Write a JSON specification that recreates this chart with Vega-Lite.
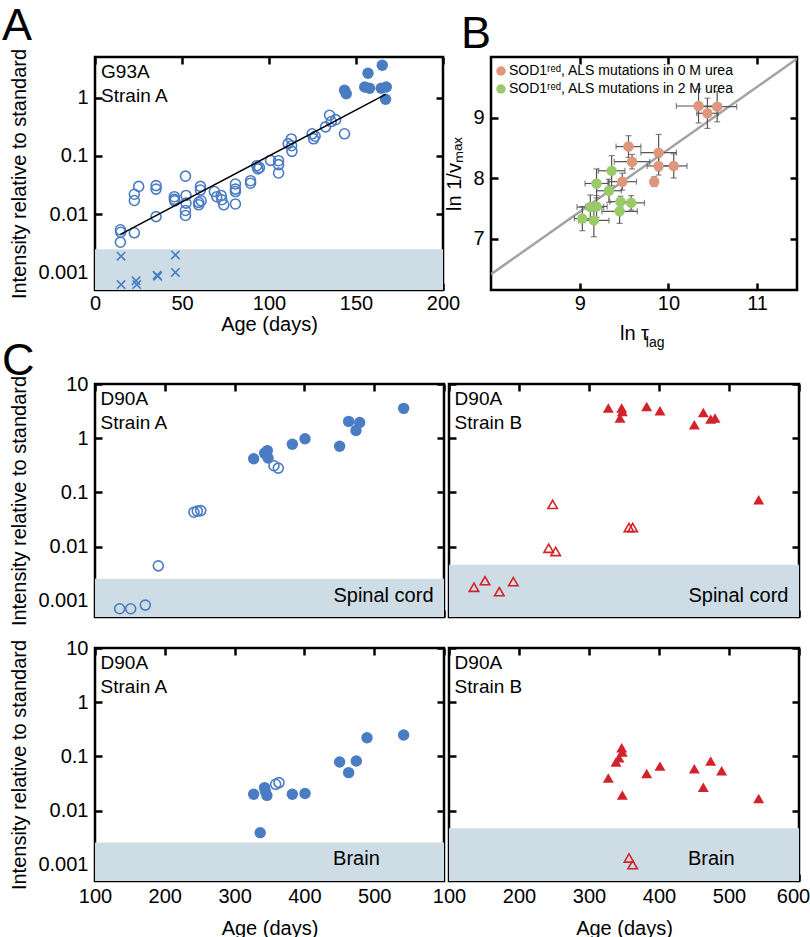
{
"$schema": "https://vega.github.io/schema/vega-lite/v6.json",
"padding": {"top": 3, "left": 0, "right": 0, "bottom": 0},
"background": "white",
"config": {
 "font": "Liberation Sans",
 "view": {"stroke": "black", "strokeWidth": 2.5},
 "axis": {"domain": false, "grid": false, "tickColor": "black", "tickWidth": 2.5, "tickSize": -7, "labelPadding": 14, "labelColor": "black", "titleColor": "black", "labelFont": "Liberation Sans", "titleFont": "Liberation Sans", "labelFontSize": 20, "titleFontSize": 20, "titleFontWeight": "normal", "labelFlush": false, "labelOverlap": false, "titlePadding": 8},
 "title": {"font": "Liberation Sans", "fontSize": 45, "fontWeight": "normal", "anchor": "start", "frame": "group", "color": "black"},
 "text": {"font": "Liberation Sans"},
 "legend": {"labelFont": "Liberation Sans"}
},
"datasets": {
 "g93a": [
  {"age": 14.6, "intensity": 0.0054, "kind": "open"}, {"age": 14.8, "intensity": 0.0049, "kind": "open"}, {"age": 14.6, "intensity": 0.0033, "kind": "open"},
  {"age": 22.6, "intensity": 0.0048, "kind": "open"}, {"age": 22.6, "intensity": 0.022, "kind": "open"}, {"age": 22.6, "intensity": 0.0172, "kind": "open"},
  {"age": 25.1, "intensity": 0.030, "kind": "open"}, {"age": 35.1, "intensity": 0.031, "kind": "open"}, {"age": 35.1, "intensity": 0.027, "kind": "open"},
  {"age": 35.1, "intensity": 0.0091, "kind": "open"}, {"age": 45.6, "intensity": 0.020, "kind": "open"}, {"age": 45.8, "intensity": 0.017, "kind": "open"},
  {"age": 45.6, "intensity": 0.018, "kind": "open"}, {"age": 52, "intensity": 0.045, "kind": "open"}, {"age": 52.3, "intensity": 0.021, "kind": "open"},
  {"age": 52.3, "intensity": 0.0155, "kind": "open"}, {"age": 52, "intensity": 0.0116, "kind": "open"}, {"age": 52, "intensity": 0.0095, "kind": "open"},
  {"age": 60.6, "intensity": 0.030, "kind": "open"}, {"age": 60.6, "intensity": 0.026, "kind": "open"}, {"age": 59.6, "intensity": 0.016, "kind": "open"},
  {"age": 59.6, "intensity": 0.0145, "kind": "open"}, {"age": 61, "intensity": 0.017, "kind": "open"}, {"age": 68.6, "intensity": 0.0245, "kind": "open"},
  {"age": 70, "intensity": 0.020, "kind": "open"}, {"age": 72.5, "intensity": 0.021, "kind": "open"}, {"age": 72.9, "intensity": 0.0177, "kind": "open"},
  {"age": 74, "intensity": 0.0145, "kind": "open"}, {"age": 80.7, "intensity": 0.033, "kind": "open"}, {"age": 80.7, "intensity": 0.027, "kind": "open"},
  {"age": 80.7, "intensity": 0.0245, "kind": "open"}, {"age": 80.7, "intensity": 0.015, "kind": "open"}, {"age": 89.4, "intensity": 0.0376, "kind": "open"},
  {"age": 89.4, "intensity": 0.034, "kind": "open"}, {"age": 93, "intensity": 0.068, "kind": "open"}, {"age": 93.6, "intensity": 0.060, "kind": "open"},
  {"age": 94.5, "intensity": 0.063, "kind": "open"}, {"age": 100.9, "intensity": 0.084, "kind": "open"}, {"age": 105.5, "intensity": 0.083, "kind": "open"},
  {"age": 105.5, "intensity": 0.071, "kind": "open"}, {"age": 105.5, "intensity": 0.051, "kind": "open"}, {"age": 111, "intensity": 0.163, "kind": "open"},
  {"age": 112.8, "intensity": 0.196, "kind": "open"}, {"age": 113, "intensity": 0.15, "kind": "open"}, {"age": 113.2, "intensity": 0.12, "kind": "open"},
  {"age": 124.8, "intensity": 0.24, "kind": "open"}, {"age": 125.6, "intensity": 0.197, "kind": "open"}, {"age": 126.5, "intensity": 0.218, "kind": "open"},
  {"age": 132.5, "intensity": 0.316, "kind": "open"}, {"age": 134.8, "intensity": 0.50, "kind": "open"}, {"age": 135.8, "intensity": 0.39, "kind": "open"},
  {"age": 138.3, "intensity": 0.42, "kind": "open"}, {"age": 143.4, "intensity": 0.24, "kind": "open"},
  {"age": 143.4, "intensity": 1.34, "kind": "filled"}, {"age": 144.4, "intensity": 1.17, "kind": "filled"}, {"age": 156.9, "intensity": 2.63, "kind": "filled"},
  {"age": 155, "intensity": 1.53, "kind": "filled"}, {"age": 157.8, "intensity": 1.45, "kind": "filled"}, {"age": 165.1, "intensity": 3.6, "kind": "filled"},
  {"age": 164.5, "intensity": 1.45, "kind": "filled"}, {"age": 167.4, "intensity": 1.53, "kind": "filled"}, {"age": 167, "intensity": 0.94, "kind": "filled"},
  {"age": 15, "intensity": 0.0019, "kind": "below"}, {"age": 15, "intensity": 0.00062, "kind": "below"}, {"age": 23.6, "intensity": 0.00072, "kind": "below"},
  {"age": 24, "intensity": 0.00062, "kind": "below"}, {"age": 35.7, "intensity": 0.0009, "kind": "below"}, {"age": 36, "intensity": 0.00086, "kind": "below"},
  {"age": 46.2, "intensity": 0.002, "kind": "below"}, {"age": 46.2, "intensity": 0.001, "kind": "below"}
 ],
 "g93afit": [{"age": 14.6, "intensity": 0.0045}, {"age": 167, "intensity": 1.14}],
 "sod": [
  {"lntau": 10.34, "lnv": 9.19, "xlo": 10.09, "xhi": 10.59, "ylo": 8.91, "yhi": 9.47, "series": "SOD1ʳᵉᵈ, ALS mutations in 0 M urea"},
  {"lntau": 10.44, "lnv": 9.07, "xlo": 10.32, "xhi": 10.56, "ylo": 8.82, "yhi": 9.32, "series": "SOD1ʳᵉᵈ, ALS mutations in 0 M urea"},
  {"lntau": 10.55, "lnv": 9.18, "xlo": 10.33, "xhi": 10.77, "ylo": 8.93, "yhi": 9.43, "series": "SOD1ʳᵉᵈ, ALS mutations in 0 M urea"},
  {"lntau": 9.55, "lnv": 8.52, "xlo": 9.41, "xhi": 9.69, "ylo": 8.34, "yhi": 8.70, "series": "SOD1ʳᵉᵈ, ALS mutations in 0 M urea"},
  {"lntau": 9.59, "lnv": 8.27, "xlo": 9.39, "xhi": 9.79, "ylo": 8.15, "yhi": 8.39, "series": "SOD1ʳᵉᵈ, ALS mutations in 0 M urea"},
  {"lntau": 9.89, "lnv": 8.42, "xlo": 9.69, "xhi": 10.09, "ylo": 8.12, "yhi": 8.72, "series": "SOD1ʳᵉᵈ, ALS mutations in 0 M urea"},
  {"lntau": 9.89, "lnv": 8.20, "xlo": 9.76, "xhi": 10.02, "ylo": 8.05, "yhi": 8.35, "series": "SOD1ʳᵉᵈ, ALS mutations in 0 M urea"},
  {"lntau": 10.06, "lnv": 8.20, "xlo": 9.91, "xhi": 10.21, "ylo": 8.00, "yhi": 8.40, "series": "SOD1ʳᵉᵈ, ALS mutations in 0 M urea"},
  {"lntau": 9.48, "lnv": 7.94, "xlo": 9.32, "xhi": 9.64, "ylo": 7.80, "yhi": 8.08, "series": "SOD1ʳᵉᵈ, ALS mutations in 0 M urea"},
  {"lntau": 9.84, "lnv": 7.94, "xlo": 9.80, "xhi": 9.88, "ylo": 7.86, "yhi": 8.02, "series": "SOD1ʳᵉᵈ, ALS mutations in 0 M urea"},
  {"lntau": 9.36, "lnv": 8.12, "xlo": 9.21, "xhi": 9.51, "ylo": 7.87, "yhi": 8.37, "series": "SOD1ʳᵉᵈ, ALS mutations in 2 M urea"},
  {"lntau": 9.19, "lnv": 7.91, "xlo": 9.06, "xhi": 9.32, "ylo": 7.67, "yhi": 8.15, "series": "SOD1ʳᵉᵈ, ALS mutations in 2 M urea"},
  {"lntau": 9.33, "lnv": 7.79, "xlo": 9.19, "xhi": 9.47, "ylo": 7.60, "yhi": 7.98, "series": "SOD1ʳᵉᵈ, ALS mutations in 2 M urea"},
  {"lntau": 9.46, "lnv": 7.61, "xlo": 9.34, "xhi": 9.58, "ylo": 7.52, "yhi": 7.70, "series": "SOD1ʳᵉᵈ, ALS mutations in 2 M urea"},
  {"lntau": 9.58, "lnv": 7.59, "xlo": 9.43, "xhi": 9.73, "ylo": 7.47, "yhi": 7.71, "series": "SOD1ʳᵉᵈ, ALS mutations in 2 M urea"},
  {"lntau": 9.45, "lnv": 7.45, "xlo": 9.25, "xhi": 9.65, "ylo": 7.25, "yhi": 7.65, "series": "SOD1ʳᵉᵈ, ALS mutations in 2 M urea"},
  {"lntau": 9.12, "lnv": 7.52, "xlo": 8.97, "xhi": 9.27, "ylo": 7.32, "yhi": 7.72, "series": "SOD1ʳᵉᵈ, ALS mutations in 2 M urea"},
  {"lntau": 9.19, "lnv": 7.53, "xlo": 9.07, "xhi": 9.31, "ylo": 7.35, "yhi": 7.71, "series": "SOD1ʳᵉᵈ, ALS mutations in 2 M urea"},
  {"lntau": 9.03, "lnv": 7.33, "xlo": 8.94, "xhi": 9.12, "ylo": 7.13, "yhi": 7.53, "series": "SOD1ʳᵉᵈ, ALS mutations in 2 M urea"},
  {"lntau": 9.16, "lnv": 7.30, "xlo": 8.99, "xhi": 9.33, "ylo": 7.03, "yhi": 7.57, "series": "SOD1ʳᵉᵈ, ALS mutations in 2 M urea"}
 ],
 "sodfit": [{"lntau": 8, "lnv": 6.41}, {"lntau": 11.45, "lnv": 9.97}],
 "d90a": [
  {"panel": "A_SC", "age": 135.3, "intensity": 0.00071, "kind": "open"}, {"panel": "A_SC", "age": 151.1, "intensity": 0.00071, "kind": "open"},
  {"panel": "A_SC", "age": 172.1, "intensity": 0.00083, "kind": "open"}, {"panel": "A_SC", "age": 190.7, "intensity": 0.0044, "kind": "open"},
  {"panel": "A_SC", "age": 241.8, "intensity": 0.043, "kind": "open"}, {"panel": "A_SC", "age": 246.6, "intensity": 0.045, "kind": "open"},
  {"panel": "A_SC", "age": 251.5, "intensity": 0.046, "kind": "open"}, {"panel": "A_SC", "age": 356.4, "intensity": 0.31, "kind": "open"},
  {"panel": "A_SC", "age": 362.6, "intensity": 0.28, "kind": "open"},
  {"panel": "A_SC", "age": 327.3, "intensity": 0.416, "kind": "filled"}, {"panel": "A_SC", "age": 343, "intensity": 0.53, "kind": "filled"},
  {"panel": "A_SC", "age": 346.9, "intensity": 0.59, "kind": "filled"}, {"panel": "A_SC", "age": 347.9, "intensity": 0.43, "kind": "filled"},
  {"panel": "A_SC", "age": 382.7, "intensity": 0.77, "kind": "filled"}, {"panel": "A_SC", "age": 400.9, "intensity": 0.975, "kind": "filled"},
  {"panel": "A_SC", "age": 450.5, "intensity": 0.71, "kind": "filled"}, {"panel": "A_SC", "age": 463.4, "intensity": 2.04, "kind": "filled"},
  {"panel": "A_SC", "age": 479.2, "intensity": 1.95, "kind": "filled"}, {"panel": "A_SC", "age": 473.9, "intensity": 1.39, "kind": "filled"},
  {"panel": "A_SC", "age": 542.2, "intensity": 3.55, "kind": "filled"},
  {"panel": "B_SC", "age": 327.6, "intensity": 3.6, "kind": "filled"}, {"panel": "B_SC", "age": 346.7, "intensity": 3.6, "kind": "filled"},
  {"panel": "B_SC", "age": 347.6, "intensity": 3.1, "kind": "filled"}, {"panel": "B_SC", "age": 344.3, "intensity": 2.35, "kind": "filled"},
  {"panel": "B_SC", "age": 382.4, "intensity": 3.86, "kind": "filled"}, {"panel": "B_SC", "age": 401.4, "intensity": 3.2, "kind": "filled"},
  {"panel": "B_SC", "age": 450.5, "intensity": 1.77, "kind": "filled"}, {"panel": "B_SC", "age": 463.3, "intensity": 2.99, "kind": "filled"},
  {"panel": "B_SC", "age": 473.8, "intensity": 2.25, "kind": "filled"}, {"panel": "B_SC", "age": 480, "intensity": 2.35, "kind": "filled"},
  {"panel": "B_SC", "age": 542.4, "intensity": 0.073, "kind": "filled"},
  {"panel": "B_SC", "age": 248.1, "intensity": 0.060, "kind": "open"}, {"panel": "B_SC", "age": 242.4, "intensity": 0.0093, "kind": "open"},
  {"panel": "B_SC", "age": 252.4, "intensity": 0.0081, "kind": "open"}, {"panel": "B_SC", "age": 357.1, "intensity": 0.0224, "kind": "open"},
  {"panel": "B_SC", "age": 362.4, "intensity": 0.0224, "kind": "open"}, {"panel": "B_SC", "age": 135.7, "intensity": 0.00177, "kind": "open"},
  {"panel": "B_SC", "age": 151.4, "intensity": 0.00234, "kind": "open"}, {"panel": "B_SC", "age": 171.9, "intensity": 0.00147, "kind": "open"},
  {"panel": "B_SC", "age": 191.9, "intensity": 0.00225, "kind": "open"},
  {"panel": "A_BR", "age": 327.3, "intensity": 0.020, "kind": "filled"}, {"panel": "A_BR", "age": 343, "intensity": 0.0265, "kind": "filled"},
  {"panel": "A_BR", "age": 346.3, "intensity": 0.019, "kind": "filled"}, {"panel": "A_BR", "age": 344, "intensity": 0.023, "kind": "filled"},
  {"panel": "A_BR", "age": 336.7, "intensity": 0.0039, "kind": "filled"}, {"panel": "A_BR", "age": 382.7, "intensity": 0.020, "kind": "filled"},
  {"panel": "A_BR", "age": 400.9, "intensity": 0.0206, "kind": "filled"}, {"panel": "A_BR", "age": 450.5, "intensity": 0.0787, "kind": "filled"},
  {"panel": "A_BR", "age": 463.4, "intensity": 0.050, "kind": "filled"}, {"panel": "A_BR", "age": 474.4, "intensity": 0.082, "kind": "filled"},
  {"panel": "A_BR", "age": 489.7, "intensity": 0.22, "kind": "filled"}, {"panel": "A_BR", "age": 542.2, "intensity": 0.247, "kind": "filled"},
  {"panel": "A_BR", "age": 358.8, "intensity": 0.0305, "kind": "open"}, {"panel": "A_BR", "age": 363.6, "intensity": 0.0327, "kind": "open"},
  {"panel": "B_BR", "age": 327.6, "intensity": 0.040, "kind": "filled"}, {"panel": "B_BR", "age": 346.7, "intensity": 0.144, "kind": "filled"},
  {"panel": "B_BR", "age": 347.5, "intensity": 0.12, "kind": "filled"}, {"panel": "B_BR", "age": 342.9, "intensity": 0.094, "kind": "filled"},
  {"panel": "B_BR", "age": 338.6, "intensity": 0.079, "kind": "filled"}, {"panel": "B_BR", "age": 347.6, "intensity": 0.0194, "kind": "filled"},
  {"panel": "B_BR", "age": 382.4, "intensity": 0.048, "kind": "filled"}, {"panel": "B_BR", "age": 401.4, "intensity": 0.066, "kind": "filled"},
  {"panel": "B_BR", "age": 450.5, "intensity": 0.059, "kind": "filled"}, {"panel": "B_BR", "age": 473.8, "intensity": 0.082, "kind": "filled"},
  {"panel": "B_BR", "age": 489.5, "intensity": 0.054, "kind": "filled"}, {"panel": "B_BR", "age": 463.3, "intensity": 0.027, "kind": "filled"},
  {"panel": "B_BR", "age": 542.4, "intensity": 0.0166, "kind": "filled"},
  {"panel": "B_BR", "age": 357.1, "intensity": 0.00133, "kind": "open"}, {"panel": "B_BR", "age": 362.4, "intensity": 0.0010, "kind": "open"}
 ]
},
"vconcat": [
 {"hconcat": [
  {"width": 348, "height": 233,
   "title": {"text": "A", "dx": -93, "offset": -1},
   "data": {"name": "g93a"},
   "layer": [
    {"data": {"values": [{}]}, "mark": {"type": "rect", "color": "#cedde5"},
     "encoding": {"y": {"datum": 0.0005, "type": "quantitative", "scale": {"type": "log", "domain": [0.0005, 5], "nice": false}, "axis": null}, "y2": {"datum": 0.0025}}},
    {"transform": [{"filter": "datum.kind == 'open'"}], "mark": {"type": "point", "shape": "circle", "filled": false, "size": 100, "strokeWidth": 1.6, "opacity": 1, "color": "#4a7cc3"},
     "encoding": {"x": {"field": "age", "type": "quantitative", "scale": {"domain": [0, 200], "nice": false, "zero": false}, "axis": {"orient": "bottom", "values": [0, 50, 100, 150, 200], "title": "Age (days)", "labelPadding": 10, "titlePadding": 1}},
      "y": {"field": "intensity", "type": "quantitative", "scale": {"type": "log", "domain": [0.0005, 5], "nice": false}, "axis": {"orient": "left", "values": [0.001, 0.01, 0.1, 1], "format": "~g", "title": "Intensity relative to standard"}}}},
    {"transform": [{"filter": "datum.kind == 'filled'"}], "mark": {"type": "point", "shape": "circle", "filled": true, "size": 130, "opacity": 1, "color": "#4a7cc3"},
     "encoding": {"x": {"field": "age", "type": "quantitative", "scale": {"domain": [0, 200], "nice": false, "zero": false}, "axis": null},
      "y": {"field": "intensity", "type": "quantitative", "scale": {"type": "log", "domain": [0.0005, 5], "nice": false}, "axis": null}}},
    {"transform": [{"filter": "datum.kind == 'below'"}], "mark": {"type": "point", "shape": "M-1,-1L1,1M-1,1L1,-1", "filled": false, "size": 70, "strokeWidth": 1.6, "opacity": 1, "color": "#4a7cc3"},
     "encoding": {"x": {"field": "age", "type": "quantitative", "scale": {"domain": [0, 200], "nice": false, "zero": false}, "axis": null},
      "y": {"field": "intensity", "type": "quantitative", "scale": {"type": "log", "domain": [0.0005, 5], "nice": false}, "axis": null}}},
    {"data": {"name": "g93afit"}, "mark": {"type": "line", "color": "black", "strokeWidth": 1.5},
     "encoding": {"x": {"field": "age", "type": "quantitative", "scale": {"domain": [0, 200], "nice": false, "zero": false}, "axis": {"orient": "top", "values": [0, 50, 100, 150, 200], "labels": false, "title": null}},
      "y": {"field": "intensity", "type": "quantitative", "scale": {"type": "log", "domain": [0.0005, 5], "nice": false}, "axis": {"orient": "right", "values": [0.001, 0.01, 0.1, 1], "labels": false, "title": null}}}},
    {"data": {"values": [{}]}, "mark": {"type": "text", "align": "left", "baseline": "top", "fontSize": 19, "lineHeight": 24, "dy": 6, "color": "black"},
     "encoding": {"x": {"datum": 3.5, "type": "quantitative", "scale": {"domain": [0, 200], "nice": false, "zero": false}, "axis": null},
      "y": {"datum": 5, "type": "quantitative", "scale": {"type": "log", "domain": [0.0005, 5], "nice": false}, "axis": null},
      "text": {"value": ["G93A", "Strain A"]}}}
   ],
   "resolve": {"axis": {"x": "independent", "y": "independent"}}
  },
  {"width": 306, "height": 233,
   "title": {"text": "B", "dx": -30, "offset": -1},
   "data": {"name": "sod"},
   "layer": [
    {"data": {"name": "sodfit"}, "mark": {"type": "line", "color": "#a3a3a3", "strokeWidth": 2.5, "clip": true},
     "encoding": {"x": {"field": "lntau", "type": "quantitative", "scale": {"domain": [8, 11.45], "nice": false, "zero": false}, "axis": {"orient": "bottom", "values": [9, 10, 11], "title": "ln τ", "titleX": 143, "labelPadding": 10, "titlePadding": 10}},
      "y": {"field": "lnv", "type": "quantitative", "scale": {"domain": [6.15, 10], "nice": false, "zero": false}, "axis": {"orient": "left", "values": [7, 8, 9], "title": "ln 1/vₘₐₓ"}}}},
    {"mark": {"type": "rule", "color": "#555555", "strokeWidth": 1.2},
     "encoding": {"x": {"field": "xlo", "type": "quantitative", "scale": {"domain": [8, 11.45], "nice": false, "zero": false}, "axis": null}, "x2": {"field": "xhi"},
      "y": {"field": "lnv", "type": "quantitative", "scale": {"domain": [6.15, 10], "nice": false, "zero": false}, "axis": null}}},
    {"mark": {"type": "rule", "color": "#555555", "strokeWidth": 1.2},
     "encoding": {"y": {"field": "ylo", "type": "quantitative", "scale": {"domain": [6.15, 10], "nice": false, "zero": false}, "axis": null}, "y2": {"field": "yhi"},
      "x": {"field": "lntau", "type": "quantitative", "scale": {"domain": [8, 11.45], "nice": false, "zero": false}, "axis": null}}},
    {"mark": {"type": "tick", "orient": "vertical", "color": "#555555", "size": 6, "thickness": 1.2},
     "encoding": {"x": {"field": "xlo", "type": "quantitative", "scale": {"domain": [8, 11.45], "nice": false, "zero": false}, "axis": null},
      "y": {"field": "lnv", "type": "quantitative", "scale": {"domain": [6.15, 10], "nice": false, "zero": false}, "axis": null}}},
    {"mark": {"type": "tick", "orient": "vertical", "color": "#555555", "size": 6, "thickness": 1.2},
     "encoding": {"x": {"field": "xhi", "type": "quantitative", "scale": {"domain": [8, 11.45], "nice": false, "zero": false}, "axis": null},
      "y": {"field": "lnv", "type": "quantitative", "scale": {"domain": [6.15, 10], "nice": false, "zero": false}, "axis": null}}},
    {"mark": {"type": "tick", "orient": "horizontal", "color": "#555555", "size": 6, "thickness": 1.2},
     "encoding": {"x": {"field": "lntau", "type": "quantitative", "scale": {"domain": [8, 11.45], "nice": false, "zero": false}, "axis": null},
      "y": {"field": "ylo", "type": "quantitative", "scale": {"domain": [6.15, 10], "nice": false, "zero": false}, "axis": null}}},
    {"mark": {"type": "tick", "orient": "horizontal", "color": "#555555", "size": 6, "thickness": 1.2},
     "encoding": {"x": {"field": "lntau", "type": "quantitative", "scale": {"domain": [8, 11.45], "nice": false, "zero": false}, "axis": null},
      "y": {"field": "yhi", "type": "quantitative", "scale": {"domain": [6.15, 10], "nice": false, "zero": false}, "axis": null}}},
    {"mark": {"type": "point", "shape": "circle", "filled": true, "size": 110, "opacity": 1},
     "encoding": {"x": {"field": "lntau", "type": "quantitative", "scale": {"domain": [8, 11.45], "nice": false, "zero": false}, "axis": {"orient": "top", "values": [9, 10, 11], "labels": false, "title": null}},
      "y": {"field": "lnv", "type": "quantitative", "scale": {"domain": [6.15, 10], "nice": false, "zero": false}, "axis": {"orient": "right", "values": [7, 8, 9], "labels": false, "title": null}},
      "color": {"field": "series", "type": "nominal", "scale": {"range": ["#e0967a", "#9bca6b"]},
       "legend": {"orient": "none", "legendX": 3, "legendY": 7, "title": null, "padding": 0, "labelFontSize": 14, "labelLimit": 400, "symbolSize": 90, "symbolType": "circle", "rowPadding": 4, "labelOffset": 1, "symbolStrokeWidth": 0}}}},
    {"data": {"values": [{}]}, "mark": {"type": "text", "align": "left", "baseline": "alphabetic", "fontSize": 14, "color": "black"},
     "encoding": {"x": {"datum": 9.745, "type": "quantitative", "scale": {"domain": [8, 11.45], "nice": false, "zero": false}, "axis": null},
      "y": {"datum": 5.21, "type": "quantitative", "scale": {"domain": [6.15, 10], "nice": false, "zero": false}, "axis": null},
      "text": {"value": "lag"}}}
   ],
   "resolve": {"axis": {"x": "independent", "y": "independent"}}
  }
 ], "spacing": 48, "bounds": "flush", "resolve": {"legend": {"color": "independent"}}},
 {"vconcat": [
 {"hconcat": [
  {"width": 349, "height": 233,
   "title": {"text": "C", "dx": -93, "dy": 6, "offset": -4},
   "data": {"name": "d90a"},
   "transform": [{"filter": "datum.panel == 'A_SC'"}],
   "layer": [
    {"data": {"values": [{}]}, "mark": {"type": "rect", "color": "#cedde5"},
     "encoding": {"y": {"datum": 0.0005, "type": "quantitative", "scale": {"type": "log", "domain": [0.0005, 10], "nice": false}, "axis": null}, "y2": {"datum": 0.00255}}},
    {"transform": [{"filter": "datum.kind == 'open'"}], "mark": {"type": "point", "shape": "circle", "filled": false, "size": 100, "strokeWidth": 1.6, "opacity": 1, "color": "#4a7cc3"},
     "encoding": {"x": {"field": "age", "type": "quantitative", "scale": {"domain": [100, 600], "nice": false, "zero": false}, "axis": {"orient": "bottom", "values": [100, 200, 300, 400, 500, 600], "labels": false, "title": null}},
      "y": {"field": "intensity", "type": "quantitative", "scale": {"type": "log", "domain": [0.0005, 10], "nice": false}, "axis": {"orient": "left", "values": [0.001, 0.01, 0.1, 1, 10], "format": "~g", "title": "Intensity relative to standard"}}}},
    {"transform": [{"filter": "datum.kind == 'filled'"}], "mark": {"type": "point", "shape": "circle", "filled": true, "size": 130, "opacity": 1, "color": "#4a7cc3"},
     "encoding": {"x": {"field": "age", "type": "quantitative", "scale": {"domain": [100, 600], "nice": false, "zero": false}, "axis": {"orient": "top", "values": [100, 200, 300, 400, 500, 600], "labels": false, "title": null}},
      "y": {"field": "intensity", "type": "quantitative", "scale": {"type": "log", "domain": [0.0005, 10], "nice": false}, "axis": {"orient": "right", "values": [0.001, 0.01, 0.1, 1, 10], "labels": false, "title": null}}}},
    {"data": {"values": [{}]}, "mark": {"type": "text", "align": "left", "baseline": "top", "fontSize": 19, "lineHeight": 24, "dy": 6, "color": "black"},
     "encoding": {"x": {"datum": 108, "type": "quantitative", "scale": {"domain": [100, 600], "nice": false, "zero": false}, "axis": null},
      "y": {"datum": 10, "type": "quantitative", "scale": {"type": "log", "domain": [0.0005, 10], "nice": false}, "axis": null},
      "text": {"value": ["D90A", "Strain A"]}}},
    {"data": {"values": [{}]}, "mark": {"type": "text", "align": "right", "baseline": "alphabetic", "fontSize": 20, "color": "black"},
     "encoding": {"x": {"datum": 585, "type": "quantitative", "scale": {"domain": [100, 600], "nice": false, "zero": false}, "axis": null},
      "y": {"datum": 0.00093, "type": "quantitative", "scale": {"type": "log", "domain": [0.0005, 10], "nice": false}, "axis": null},
      "text": {"value": "Spinal cord"}}}
   ],
   "resolve": {"axis": {"x": "independent", "y": "independent"}}
  },
  {"width": 350, "height": 233,
   "data": {"name": "d90a"},
   "transform": [{"filter": "datum.panel == 'B_SC'"}],
   "layer": [
    {"data": {"values": [{}]}, "mark": {"type": "rect", "color": "#cedde5"},
     "encoding": {"y": {"datum": 0.0005, "type": "quantitative", "scale": {"type": "log", "domain": [0.0005, 10], "nice": false}, "axis": null}, "y2": {"datum": 0.0046}}},
    {"transform": [{"filter": "datum.kind == 'open'"}], "mark": {"type": "point", "shape": "triangle-up", "filled": false, "size": 90, "strokeWidth": 1.6, "opacity": 1, "color": "#d2232a"},
     "encoding": {"x": {"field": "age", "type": "quantitative", "scale": {"domain": [100, 600], "nice": false, "zero": false}, "axis": {"orient": "bottom", "values": [100, 200, 300, 400, 500, 600], "labels": false, "title": null}},
      "y": {"field": "intensity", "type": "quantitative", "scale": {"type": "log", "domain": [0.0005, 10], "nice": false}, "axis": {"orient": "left", "values": [0.001, 0.01, 0.1, 1, 10], "labels": false, "title": null}}}},
    {"transform": [{"filter": "datum.kind == 'filled'"}], "mark": {"type": "point", "shape": "triangle-up", "filled": true, "size": 120, "opacity": 1, "color": "#d2232a"},
     "encoding": {"x": {"field": "age", "type": "quantitative", "scale": {"domain": [100, 600], "nice": false, "zero": false}, "axis": {"orient": "top", "values": [100, 200, 300, 400, 500, 600], "labels": false, "title": null}},
      "y": {"field": "intensity", "type": "quantitative", "scale": {"type": "log", "domain": [0.0005, 10], "nice": false}, "axis": {"orient": "right", "values": [0.001, 0.01, 0.1, 1, 10], "labels": false, "title": null}}}},
    {"data": {"values": [{}]}, "mark": {"type": "text", "align": "left", "baseline": "top", "fontSize": 19, "lineHeight": 24, "dy": 6, "color": "black"},
     "encoding": {"x": {"datum": 108, "type": "quantitative", "scale": {"domain": [100, 600], "nice": false, "zero": false}, "axis": null},
      "y": {"datum": 10, "type": "quantitative", "scale": {"type": "log", "domain": [0.0005, 10], "nice": false}, "axis": null},
      "text": {"value": ["D90A", "Strain B"]}}},
    {"data": {"values": [{}]}, "mark": {"type": "text", "align": "right", "baseline": "alphabetic", "fontSize": 20, "color": "black"},
     "encoding": {"x": {"datum": 585, "type": "quantitative", "scale": {"domain": [100, 600], "nice": false, "zero": false}, "axis": null},
      "y": {"datum": 0.00093, "type": "quantitative", "scale": {"type": "log", "domain": [0.0005, 10], "nice": false}, "axis": null},
      "text": {"value": "Spinal cord"}}}
   ],
   "resolve": {"axis": {"x": "independent", "y": "independent"}}
  }
 ], "spacing": 5, "bounds": "flush"},
 {"hconcat": [
  {"width": 349, "height": 233,
   "data": {"name": "d90a"},
   "transform": [{"filter": "datum.panel == 'A_BR'"}],
   "layer": [
    {"data": {"values": [{}]}, "mark": {"type": "rect", "color": "#cedde5"},
     "encoding": {"y": {"datum": 0.0005, "type": "quantitative", "scale": {"type": "log", "domain": [0.0005, 10], "nice": false}, "axis": null}, "y2": {"datum": 0.00258}}},
    {"transform": [{"filter": "datum.kind == 'open'"}], "mark": {"type": "point", "shape": "circle", "filled": false, "size": 100, "strokeWidth": 1.6, "opacity": 1, "color": "#4a7cc3"},
     "encoding": {"x": {"field": "age", "type": "quantitative", "scale": {"domain": [100, 600], "nice": false, "zero": false}, "axis": {"orient": "bottom", "values": [100, 200, 300, 400, 500], "title": "Age (days)", "labelPadding": 12, "titlePadding": 12}},
      "y": {"field": "intensity", "type": "quantitative", "scale": {"type": "log", "domain": [0.0005, 10], "nice": false}, "axis": {"orient": "left", "values": [0.001, 0.01, 0.1, 1, 10], "format": "~g", "title": "Intensity relative to standard"}}}},
    {"transform": [{"filter": "datum.kind == 'filled'"}], "mark": {"type": "point", "shape": "circle", "filled": true, "size": 130, "opacity": 1, "color": "#4a7cc3"},
     "encoding": {"x": {"field": "age", "type": "quantitative", "scale": {"domain": [100, 600], "nice": false, "zero": false}, "axis": {"orient": "top", "values": [100, 200, 300, 400, 500, 600], "labels": false, "title": null}},
      "y": {"field": "intensity", "type": "quantitative", "scale": {"type": "log", "domain": [0.0005, 10], "nice": false}, "axis": {"orient": "right", "values": [0.001, 0.01, 0.1, 1, 10], "labels": false, "title": null}}}},
    {"data": {"values": [{}]}, "mark": {"type": "text", "align": "left", "baseline": "top", "fontSize": 19, "lineHeight": 24, "dy": 6, "color": "black"},
     "encoding": {"x": {"datum": 108, "type": "quantitative", "scale": {"domain": [100, 600], "nice": false, "zero": false}, "axis": null},
      "y": {"datum": 10, "type": "quantitative", "scale": {"type": "log", "domain": [0.0005, 10], "nice": false}, "axis": null},
      "text": {"value": ["D90A", "Strain A"]}}},
    {"data": {"values": [{}]}, "mark": {"type": "text", "align": "right", "baseline": "alphabetic", "fontSize": 20, "color": "black"},
     "encoding": {"x": {"datum": 508, "type": "quantitative", "scale": {"domain": [100, 600], "nice": false, "zero": false}, "axis": null},
      "y": {"datum": 0.001, "type": "quantitative", "scale": {"type": "log", "domain": [0.0005, 10], "nice": false}, "axis": null},
      "text": {"value": "Brain"}}}
   ],
   "resolve": {"axis": {"x": "independent", "y": "independent"}}
  },
  {"width": 350, "height": 233,
   "data": {"name": "d90a"},
   "transform": [{"filter": "datum.panel == 'B_BR'"}],
   "layer": [
    {"data": {"values": [{}]}, "mark": {"type": "rect", "color": "#cedde5"},
     "encoding": {"y": {"datum": 0.0005, "type": "quantitative", "scale": {"type": "log", "domain": [0.0005, 10], "nice": false}, "axis": null}, "y2": {"datum": 0.0047}}},
    {"transform": [{"filter": "datum.kind == 'open'"}], "mark": {"type": "point", "shape": "triangle-up", "filled": false, "size": 90, "strokeWidth": 1.6, "opacity": 1, "color": "#d2232a"},
     "encoding": {"x": {"field": "age", "type": "quantitative", "scale": {"domain": [100, 600], "nice": false, "zero": false}, "axis": {"orient": "bottom", "values": [100, 200, 300, 400, 500, 600], "title": "Age (days)", "labelPadding": 12, "titlePadding": 12, "labelOffset": {"condition": {"test": "datum.value == 600", "value": -6}, "value": 0}}},
      "y": {"field": "intensity", "type": "quantitative", "scale": {"type": "log", "domain": [0.0005, 10], "nice": false}, "axis": {"orient": "left", "values": [0.001, 0.01, 0.1, 1, 10], "labels": false, "title": null}}}},
    {"transform": [{"filter": "datum.kind == 'filled'"}], "mark": {"type": "point", "shape": "triangle-up", "filled": true, "size": 120, "opacity": 1, "color": "#d2232a"},
     "encoding": {"x": {"field": "age", "type": "quantitative", "scale": {"domain": [100, 600], "nice": false, "zero": false}, "axis": {"orient": "top", "values": [100, 200, 300, 400, 500, 600], "labels": false, "title": null}},
      "y": {"field": "intensity", "type": "quantitative", "scale": {"type": "log", "domain": [0.0005, 10], "nice": false}, "axis": {"orient": "right", "values": [0.001, 0.01, 0.1, 1, 10], "labels": false, "title": null}}}},
    {"data": {"values": [{}]}, "mark": {"type": "text", "align": "left", "baseline": "top", "fontSize": 19, "lineHeight": 24, "dy": 6, "color": "black"},
     "encoding": {"x": {"datum": 108, "type": "quantitative", "scale": {"domain": [100, 600], "nice": false, "zero": false}, "axis": null},
      "y": {"datum": 10, "type": "quantitative", "scale": {"type": "log", "domain": [0.0005, 10], "nice": false}, "axis": null},
      "text": {"value": ["D90A", "Strain B"]}}},
    {"data": {"values": [{}]}, "mark": {"type": "text", "align": "right", "baseline": "alphabetic", "fontSize": 20, "color": "black"},
     "encoding": {"x": {"datum": 508, "type": "quantitative", "scale": {"domain": [100, 600], "nice": false, "zero": false}, "axis": null},
      "y": {"datum": 0.001, "type": "quantitative", "scale": {"type": "log", "domain": [0.0005, 10], "nice": false}, "axis": null},
      "text": {"value": "Brain"}}}
   ],
   "resolve": {"axis": {"x": "independent", "y": "independent"}}
  }
 ], "spacing": 5, "bounds": "flush"}
 ], "spacing": 9}
],
"spacing": -15,
"resolve": {"legend": {"color": "independent"}}
}
